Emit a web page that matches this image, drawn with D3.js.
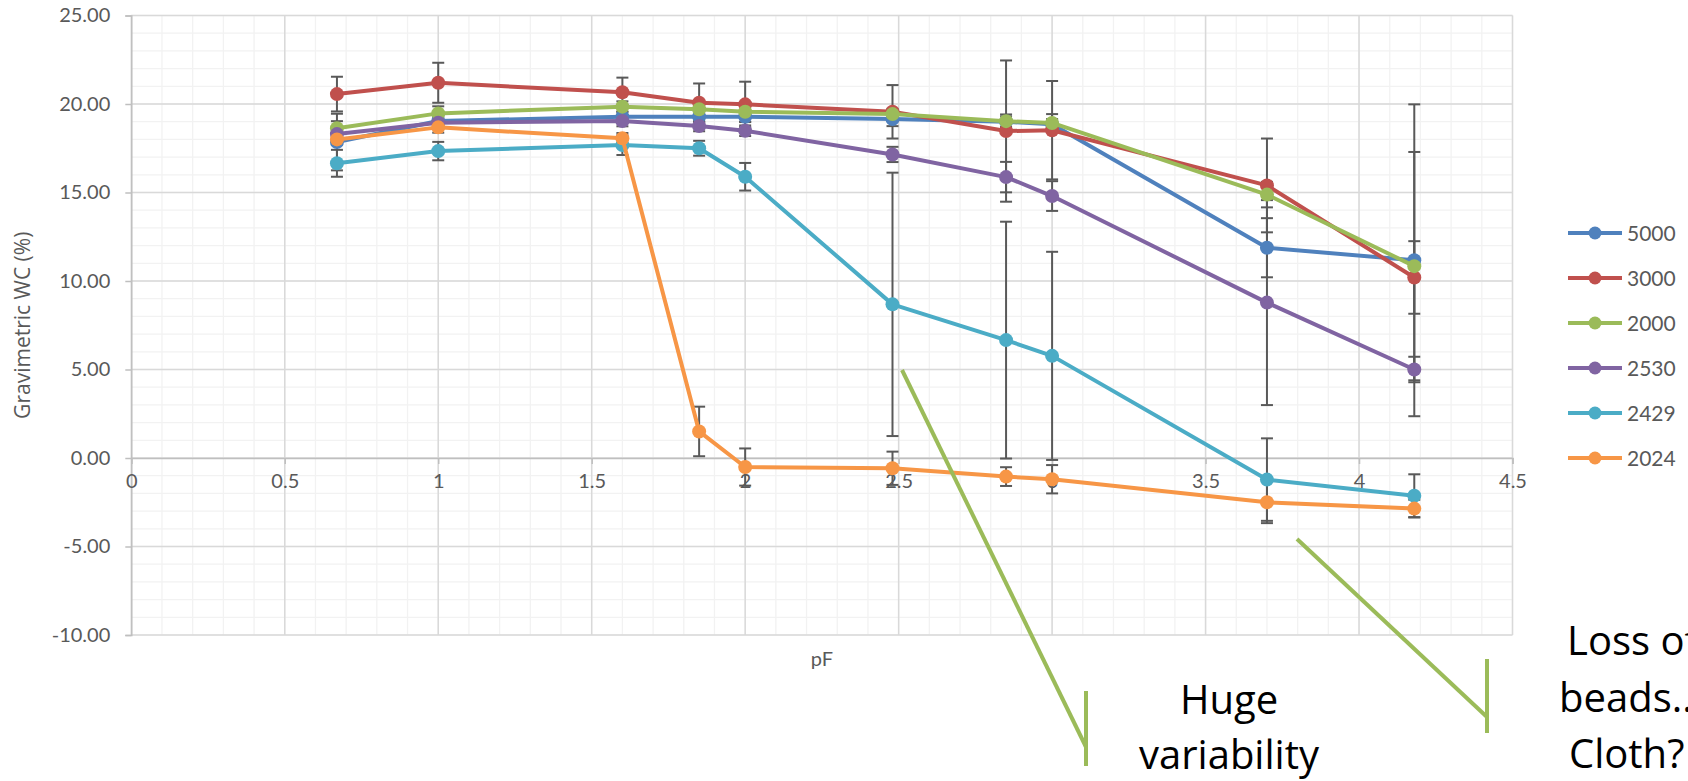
<!DOCTYPE html>
<html>
<head>
<meta charset="utf-8">
<script src="https://cdn.jsdelivr.net/npm/d3@7"></script>
<style>
  body { margin: 0; background: #fff; }
  text { font-family: Lato, "Open Sans", sans-serif; }
</style>
</head>
<body>
<script>
var w = 1688;
var h = 781;

// data
var pF = [0.67, 1, 1.6, 1.85, 2, 2.48, 2.85, 3, 3.7, 4.18];
var seriesNames = ["5000", "3000", "2000", "2530", "2429", "2024"];
var seriesColors = ["#4F81BD", "#C0504D", "#9BBB59", "#8064A2", "#4BACC6", "#F79646"];

var wc5000 = [17.85, 19.04, 19.28, 19.28, 19.28, 19.15, 19.0, 18.85, 11.88, 11.17];
var wc3000 = [20.56, 21.2, 20.66, 20.07, 19.98, 19.56, 18.47, 18.52, 15.4, 10.2];
var wc2000 = [18.63, 19.47, 19.85, 19.7, 19.56, 19.43, 19.03, 18.93, 14.88, 10.84];
var wc2530 = [18.3, 18.94, 19.04, 18.76, 18.49, 17.15, 15.87, 14.8, 8.78, 5.0];
var wc2429 = [16.65, 17.34, 17.68, 17.5, 15.89, 8.68, 6.66, 5.77, -1.22, -2.13];
var wc2024 = [18.0, 18.68, 18.06, 1.5, -0.51, -0.58, -1.05, -1.2, -2.5, -2.86];

// error bar half widths
var err5000 = [1.6, 0.3, 0.3, 0.3, 0.3, 0.4, 0.3, 0.3, 1.67, 8.81];
var err3000 = [0.98, 1.13, 0.83, 1.09, 1.28, 1.51, 3.99, 2.78, 2.65, 2.05];
var err2000 = [0.4, 0.4, 0.3, 0.3, 0.56, 0.3, 0.38, 0.5, 0.72, 6.45];
var err2530 = [0.3, 0.3, 0.3, 0.3, 0.3, 0.43, 0.86, 0.84, 5.79, 0.72];
var err2429 = [0.76, 0.52, 0.56, 0.42, 0.78, 7.44, 6.69, 5.88, 2.33, 1.21];
var err2024 = [0.3, 0.3, 0.3, 1.4, 1.05, 0.94, 0.53, 0.8, 1.18, 0.5];

var xTicks = [0, 0.5, 1, 1.5, 2, 2.5, 3, 3.5, 4, 4.5];
var yTicks = [-10, -5, 0, 5, 10, 15, 20, 25];

var note1 = ["Huge", "variability"];
var note2 = ["Loss of", "beads..", "Cloth?"];

var values = [wc5000, wc3000, wc2000, wc2530, wc2429, wc2024];
var errors = [err5000, err3000, err2000, err2530, err2429, err2024];

var series = seriesNames.map(function(name, i) {
  return {
    name: name,
    color: seriesColors[i],
    points: pF.map(function(x, j) {
      return { x: x, y: values[i][j], e: errors[i][j] };
    })
  };
});

var svg = d3.select("body").append("svg")
          .attr("width", w)
          .attr("height", h);

var x = d3.scaleLinear().domain([0, 4.5]).range([131.3, 1512.5]);
var y = d3.scaleLinear().domain([-10, 25]).range([635, 15.5]);

// minor grid
svg.append("g")
   .selectAll("line")
   .data(d3.range(0, 4.51, 0.1))
   .join("line")
   .attr("x1", d => x(d)).attr("x2", d => x(d))
   .attr("y1", y(25)).attr("y2", y(-10))
   .attr("stroke", "#F2F2F2")
   .attr("stroke-width", 1.3);
svg.append("g")
   .selectAll("line")
   .data(d3.range(-10, 25.1, 1))
   .join("line")
   .attr("x1", x(0)).attr("x2", x(4.5))
   .attr("y1", d => y(d)).attr("y2", d => y(d))
   .attr("stroke", "#F2F2F2")
   .attr("stroke-width", 1.3);

// major grid
svg.append("g")
   .selectAll("line")
   .data(xTicks)
   .join("line")
   .attr("x1", d => x(d)).attr("x2", d => x(d))
   .attr("y1", y(25)).attr("y2", y(-10))
   .attr("stroke", "#D9D9D9")
   .attr("stroke-width", 1.5);
svg.append("g")
   .selectAll("line")
   .data(yTicks)
   .join("line")
   .attr("x1", x(0)).attr("x2", x(4.5))
   .attr("y1", d => y(d)).attr("y2", d => y(d))
   .attr("stroke", "#D9D9D9")
   .attr("stroke-width", 1.5);

// axes
var yAxis = d3.axisLeft(y).tickValues(yTicks).tickSize(6).tickPadding(15)
              .tickFormat(d => d.toFixed(2));
var gy = svg.append("g")
            .attr("transform", "translate(" + x(0) + ",0)")
            .call(yAxis);
var xAxis = d3.axisBottom(x).tickValues(xTicks).tickSize(6).tickPadding(10)
              .tickFormat(d => String(d));
var gx = svg.append("g")
            .attr("transform", "translate(0," + y(0) + ")")
            .call(xAxis);
[gx, gy].forEach(function(g) {
  g.select(".domain").attr("stroke", "#BFBFBF").attr("stroke-width", 1.5);
  g.selectAll(".tick line").attr("stroke", "#BFBFBF").attr("stroke-width", 1.5);
  g.selectAll(".tick text")
   .attr("fill", "#595959")
   .style("font-size", "20px")
   .style("font-family", "Lato");
});

// axis titles
svg.append("text")
   .attr("transform", "translate(30," + (y(25) + y(-10)) / 2 + ") rotate(-90)")
   .attr("text-anchor", "middle")
   .attr("fill", "#595959")
   .style("font-family", "'Open Sans'")
   .style("font-size", "21px")
   .text("Gravimetric WC (%)");
svg.append("text")
   .attr("x", (x(0) + x(4.5)) / 2)
   .attr("y", 666)
   .attr("text-anchor", "middle")
   .attr("fill", "#595959")
   .style("font-size", "20px")
   .text("pF");

// error bars
var bars = svg.append("g");
series.forEach(function(s) {
  var g = bars.append("g")
              .attr("stroke", "#595959")
              .attr("stroke-width", 2);
  g.selectAll(".v").data(s.points).join("line")
   .attr("x1", d => x(d.x)).attr("x2", d => x(d.x))
   .attr("y1", d => y(d.y + d.e)).attr("y2", d => y(d.y - d.e));
  g.selectAll(".t").data(s.points).join("line")
   .attr("x1", d => x(d.x) - 6).attr("x2", d => x(d.x) + 6)
   .attr("y1", d => y(d.y + d.e)).attr("y2", d => y(d.y + d.e));
  g.selectAll(".b").data(s.points).join("line")
   .attr("x1", d => x(d.x) - 6).attr("x2", d => x(d.x) + 6)
   .attr("y1", d => y(d.y - d.e)).attr("y2", d => y(d.y - d.e));
});

// lines and markers
var line = d3.line().x(d => x(d.x)).y(d => y(d.y));
series.forEach(function(s) {
  svg.append("path")
     .datum(s.points)
     .attr("d", line)
     .attr("fill", "none")
     .attr("stroke", s.color)
     .attr("stroke-width", 4)
     .attr("stroke-linejoin", "round");
  svg.append("g")
     .selectAll("circle")
     .data(s.points)
     .join("circle")
     .attr("cx", d => x(d.x))
     .attr("cy", d => y(d.y))
     .attr("r", 7)
     .attr("fill", s.color);
});

// legend
var legend = svg.append("g")
                .selectAll("g")
                .data(series)
                .join("g")
                .attr("transform", (d, i) => "translate(1568," + (233 + i * 45) + ")");
legend.append("line")
      .attr("x1", 0).attr("x2", 54)
      .attr("stroke", d => d.color)
      .attr("stroke-width", 4);
legend.append("circle")
      .attr("cx", 27)
      .attr("r", 6.5)
      .attr("fill", d => d.color);
legend.append("text")
      .attr("x", 59)
      .attr("dy", "0.36em")
      .attr("fill", "#595959")
      .style("font-size", "21px")
      .text(d => d.name);

// callouts
var callouts = svg.append("g")
                  .attr("fill", "none")
                  .attr("stroke", "#9BBB59")
                  .attr("stroke-width", 4);
callouts.append("line").attr("x1", 902).attr("y1", 370).attr("x2", 1086).attr("y2", 747);
callouts.append("line").attr("x1", 1086).attr("y1", 691).attr("x2", 1086).attr("y2", 766);
callouts.append("line").attr("x1", 1297).attr("y1", 539).attr("x2", 1487).attr("y2", 717);
callouts.append("line").attr("x1", 1487).attr("y1", 659).attr("x2", 1487).attr("y2", 733);

svg.append("g")
   .selectAll("text")
   .data(note1)
   .join("text")
   .attr("x", 1229)
   .attr("y", (d, i) => 714 + i * 55)
   .attr("text-anchor", "middle")
   .style("font-family", "'Open Sans'")
   .style("font-size", "40px")
   .text(d => d);

// right note runs off the edge, lines start at their own x
var note2x = [1567, 1559, 1569];
svg.append("g")
   .selectAll("text")
   .data(note2)
   .join("text")
   .attr("x", (d, i) => note2x[i])
   .attr("y", (d, i) => 655 + i * 56.5)
   .style("font-family", "'Open Sans'")
   .style("font-size", "40px")
   .text(d => d);
</script>
</body>
</html>
